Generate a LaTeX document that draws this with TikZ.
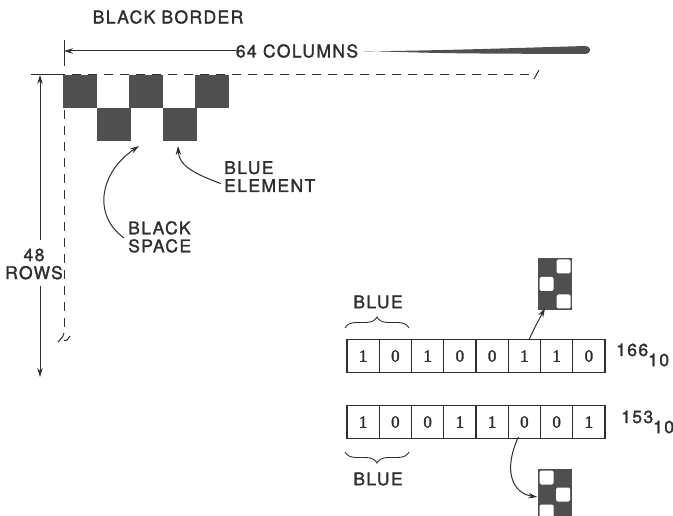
\documentclass[tikz,border=0pt]{standalone}
\usepackage{fontspec}
\setmainfont{TeX Gyre Heros}[LetterSpace=8,FakeBold=1.6]
\newfontfamily\digitfont{Liberation Serif}[FakeBold=1.8]
\usetikzlibrary{arrows.meta,decorations.pathreplacing}
\definecolor{ink}{HTML}{2E2E2E}
\definecolor{cellfill}{HTML}{4F4F4F}
\tikzset{
  lbl/.style={font=\fontsize{17.5}{18}\selectfont, text=ink, inner sep=0pt},
  cell/.style={fill=cellfill, draw=none, minimum size=33.5pt, inner sep=0pt},
  bit/.style={draw=ink, line width=1.1pt, minimum width=32.25pt, minimum height=33pt,
              inner sep=0pt, font=\digitfont\fontsize{17}{17}\selectfont, text=ink},
  pat/.style={fill=cellfill, draw=none, minimum width=34pt, minimum height=52pt, inner sep=0pt},
  hole/.style={fill=white, rounded corners=1.5pt},
  link/.style={draw=ink, line width=1pt, -{Stealth[length=9pt,width=5.5pt]}},
  dim/.style={draw=ink, line width=1pt},
  brc/.style={draw=ink, line width=0.9pt, decorate, decoration={brace, amplitude=11pt}},
}
\begin{document}
\begin{tikzpicture}[x=1pt,y=-1pt]
\useasboundingbox (0,0) rectangle (673,516);
\clip (0,0) rectangle (673,516);

% --- heading and column dimension
\node[lbl] (title) at (168,17) {BLACK BORDER};
\node[lbl] (cols) at (297,51) {64 COLUMNS};
\coordinate (colend) at (64,51);
\draw[dim] (64,40) -- (64,66);
\draw[link] (cols.west) -- (colend);
\fill[cellfill] (cols.east) ++(6,0.5) .. controls (450,50) .. (585,46)
   .. controls (592,46.5) and (592,53.5) .. (585,54)
   .. controls (450,53.5) .. ([xshift=6]cols.east) -- cycle;

% --- border outline (dashed)
\draw[dim] (31,75) -- (56,75);
\draw[dim, dash pattern=on 9pt off 7pt] (56,75) -- (533,75);
\draw[dim] (534,79) -- (539,70);
\draw[dim, dash pattern=on 9pt off 7pt] (64,110) -- (64,334);
\draw[dim] (58,342) .. controls (61,338) and (63,338) .. (64,333)
   (64,340) .. controls (66,342) and (68,339) .. (70,336);

% --- row dimension
\node[lbl, align=center] (rows) at (34,264) {48\\ROWS};
\coordinate (rowtop) at (40,75);
\coordinate (rowbot) at (40,377);
\draw[link] ([yshift=8]rows.north -| rowtop) -- (rowtop);
\draw[link] ([yshift=-6]rows.south -| rowbot) -- (rowbot);

% --- checker cells of the border
\node[cell] (c0) at (80,91.5) {};
\node[cell] (c2) at (146,91.5) {};
\node[cell] (c4) at (212,91.5) {};
\node[cell] (c1) at (114,124.5) {};
\node[cell] (c3) at (180,124.5) {};

% --- callouts
\node[lbl, anchor=north west, align=left] (bspace) at (128,221) {BLACK\\SPACE};
\node[lbl, anchor=north west, align=left] (belem) at (224,161) {BLUE\\ELEMENT};
\coordinate (bsp) at (139,146);
\coordinate (bel) at (178,146);
\draw[link] ([xshift=-4,yshift=-1]bspace.west) .. controls (92,215) and (100,172) .. (bsp);
\draw[link] ([xshift=-3,yshift=-7]belem.west) .. controls (195,174) and (179,166) .. (bel);

% --- first byte
\foreach \d [count=\i] in {1,0,1,0,0,1,1,0}
  \node[bit] (a\i) at ({347+32.25*(\i-0.5)},356) {\d};
\node[lbl, anchor=west] (na) at (616,355) {166\raisebox{-1.1ex}{10}};
\draw[brc] (345,328) -- (409,328);
\node[lbl] (blue1) at (378,302) {BLUE};
\node[pat] (pat1) at (555,284) {};
\fill[hole] (556.5,259.5) rectangle (570.5,273.5);
\fill[hole] (539.5,277) rectangle (553.5,291);
\fill[hole] (556.5,294.5) rectangle (570.5,308.5);
\draw[link] ([xshift=5]a6.north) .. controls (535,327) .. ([xshift=-10,yshift=2]pat1.south);

% --- second byte
\foreach \d [count=\i] in {1,0,0,1,1,0,0,1}
  \node[bit] (b\i) at ({347+32.25*(\i-0.5)},422) {\d};
\node[lbl, anchor=west] (nb) at (621,422) {153\raisebox{-1.1ex}{10}};
\draw[brc] (409,452) -- (345,452);
\node[lbl] (blue2) at (378,479) {BLUE};
\node[pat] (pat2) at (554.5,495) {};
\fill[hole] (539.5,470.5) rectangle (553.5,484.5);
\fill[hole] (556,487.5) rectangle (570,501.5);
\fill[hole] (539.5,504.5) rectangle (553.5,518.5);
\draw[link] ([xshift=-6,yshift=2]b6.south) .. controls (503,470) and (512,493) .. ([yshift=-2]pat2.west);
\end{tikzpicture}
\end{document}
